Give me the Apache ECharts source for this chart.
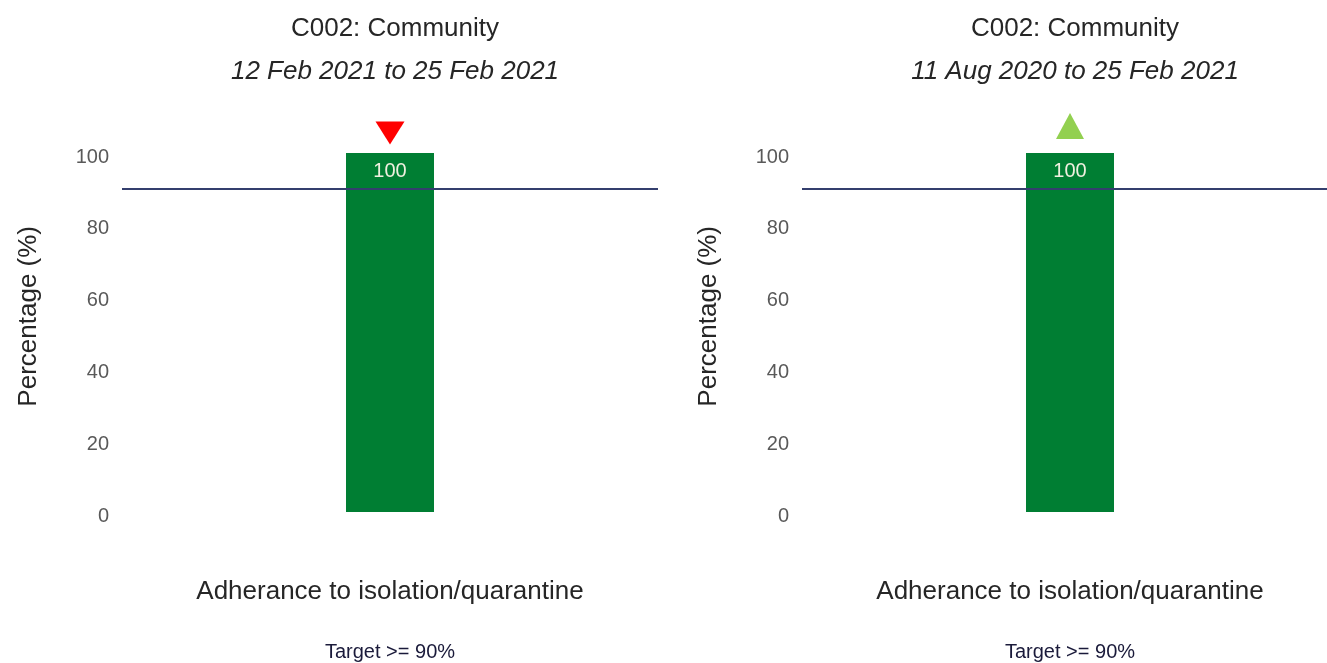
<!DOCTYPE html>
<html><head><meta charset="utf-8">
<script src="https://cdn.jsdelivr.net/npm/echarts@6/dist/echarts.min.js"></script>
<style>html,body{margin:0;padding:0;background:#fff}#c{width:1327px;height:663px}</style>
</head><body><div id="c"></div>
<script>
const panelTitles = ['C002: Community', 'C002: Community'];
const panelPeriods = ['12 Feb 2021 to 25 Feb 2021', '11 Aug 2020 to 25 Feb 2021'];
const categories = ['Adherance to isolation/quarantine'];
const values = [[100], [100]];
const trends = ['down', 'up'];
const target = 90;
const yTicks = [0, 20, 40, 60, 80, 100];

const FONT = '"Liberation Sans", Arial, sans-serif';
const panelLeft = [122, 802];
const W = 536;
const centers = panelLeft.map(l => l + W / 2);

const option = {
  animation: false,
  textStyle: { fontFamily: FONT },
  title: [],
  grid: [],
  xAxis: [],
  yAxis: [],
  series: [],
  graphic: []
};

for (let i = 0; i < 2; i++) {
  option.title.push({
    text: panelTitles[i],
    subtext: panelPeriods[i],
    left: centers[i], textAlign: 'center', top: 11, itemGap: 17,
    textStyle: { fontFamily: FONT, fontSize: 26, fontWeight: 'normal', color: '#262626' },
    subtextStyle: { fontFamily: FONT, fontSize: 26, fontStyle: 'italic', color: '#262626' }
  });
  option.grid.push({ left: panelLeft[i], width: W, top: 153, height: 359, outerBoundsMode: 'none', containLabel: false });
  option.xAxis.push({
    type: 'category', gridIndex: i, data: categories,
    axisLine: { show: false }, axisTick: { show: false },
    axisLabel: { margin: 67, fontSize: 26, color: '#262626', fontFamily: FONT },
    name: 'Target >= 90%', nameLocation: 'middle', nameGap: 130,
    nameTextStyle: { fontSize: 20, color: '#1a1a3a', fontFamily: FONT }
  });
  option.yAxis.push({
    type: 'value', gridIndex: i, min: yTicks[0], max: yTicks[yTicks.length - 1], interval: 20,
    splitLine: { show: false }, axisLine: { show: false }, axisTick: { show: false },
    axisLabel: { margin: 13, fontSize: 20, color: '#595959', fontFamily: FONT, verticalAlign: 'top', lineHeight: 8 }
  });
  option.graphic.push({
    type: 'text', left: panelLeft[i] - 106, top: 226, rotation: Math.PI / 2,
    style: { text: 'Percentage (%)', font: '26px ' + FONT, fill: '#262626' }
  });
  option.series.push({
    type: 'bar', xAxisIndex: i, yAxisIndex: i, data: values[i], barWidth: 88,
    itemStyle: { color: '#007E33' },
    label: { show: true, position: 'insideTop', distance: 8, fontSize: 20, color: '#f0f0e0', fontFamily: FONT },
    markLine: {
      silent: true, symbol: 'none', label: { show: false },
      lineStyle: { color: '#343f6e', width: 2, type: 'solid', opacity: 1 },
      data: [{ yAxis: target }]
    }
  });
  const down = trends[i] === 'down';
  option.series.push({
    type: 'scatter', xAxisIndex: i, yAxisIndex: i, clip: false, z: 5,
    data: values[i],
    symbol: 'triangle',
    symbolRotate: down ? 180 : 0,
    symbolSize: down ? [29, 23] : [28, 26],
    symbolOffset: down ? [0, -20] : [0, -27],
    itemStyle: { color: down ? '#FF0000' : '#92D050', opacity: 1 }
  });
}

const chart = echarts.init(document.getElementById('c'), null, { renderer: 'canvas' });
chart.setOption(option);
</script></body></html>
